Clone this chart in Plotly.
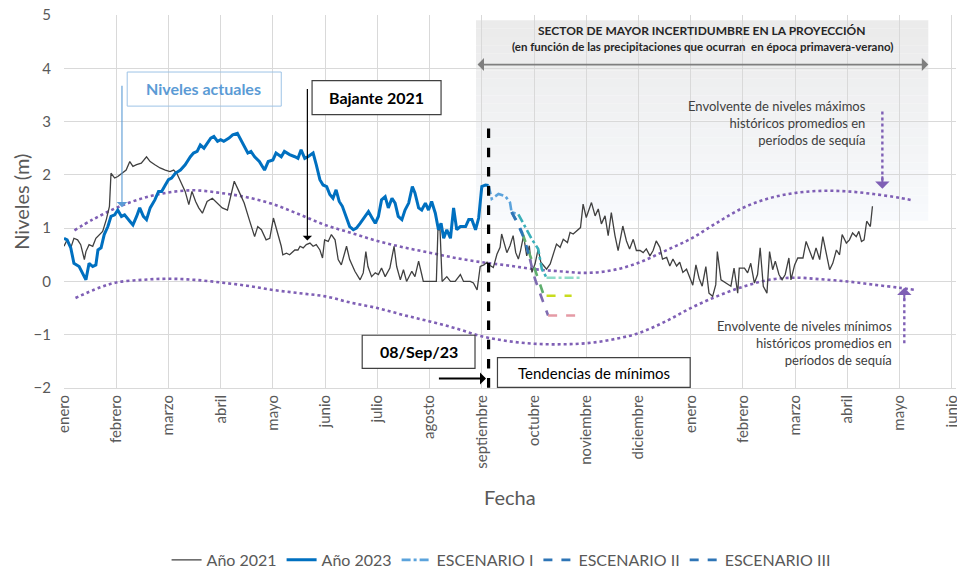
import plotly.graph_objects as go

# ---------------- data (x in months from January 2021/2023) ----------------
month_labels = ["enero", "febrero", "marzo", "abril", "mayo", "junio", "julio", "agosto",
                "septiembre", "octubre", "noviembre", "diciembre", "enero", "febrero",
                "marzo", "abril", "mayo", "junio"]

x2021 = [0.00, 0.06, 0.13, 0.19, 0.26, 0.32, 0.39, 0.42, 0.48, 0.55, 0.61, 0.68, 0.74, 0.81, 0.84, 0.87,
         0.90, 0.97, 1.03, 1.10, 1.19, 1.26, 1.32, 1.39, 1.48, 1.58, 1.65, 1.74, 1.84, 1.94, 2.03, 2.10,
         2.16, 2.23, 2.32, 2.39, 2.45, 2.52, 2.58, 2.65, 2.74, 2.84, 2.94, 3.03, 3.13, 3.19, 3.26, 3.35,
         3.45, 3.55, 3.65, 3.71, 3.78, 3.87, 3.94, 4.01, 4.10, 4.16, 4.19, 4.26, 4.32, 4.42, 4.48, 4.52,
         4.58, 4.64, 4.71, 4.77, 4.83, 4.90, 4.95, 4.99, 5.06, 5.12, 5.19, 5.25, 5.31, 5.41, 5.47, 5.57,
         5.67, 5.73, 5.78, 5.82, 5.89, 5.96, 6.02, 6.08, 6.15, 6.24, 6.32, 6.37, 6.44, 6.50, 6.56, 6.66,
         6.72, 6.79, 6.85, 6.88, 7.00, 7.13, 7.16, 7.20, 7.24, 7.33, 7.40, 7.49, 7.59, 7.65, 7.78, 7.84,
         7.91, 7.97, 8.04, 8.10, 8.16, 8.22, 8.29, 8.35, 8.38, 8.42, 8.48, 8.54, 8.60, 8.65, 8.70, 8.74,
         8.80, 8.86, 8.91, 8.96, 9.02, 9.08, 9.13, 9.19, 9.24, 9.31, 9.37, 9.43, 9.50, 9.56, 9.64, 9.69,
         9.75, 9.85, 9.89, 9.94, 10.00, 10.10, 10.17, 10.23, 10.29, 10.36, 10.42, 10.48, 10.55, 10.61,
         10.70, 10.77, 10.83, 10.90, 10.96, 11.03, 11.09, 11.15, 11.22, 11.28, 11.34, 11.41, 11.46,
         11.54, 11.60, 11.66, 11.73, 11.79, 11.85, 11.92, 11.98, 12.04, 12.10, 12.16, 12.22, 12.29,
         12.35, 12.42, 12.48, 12.51, 12.58, 12.67, 12.77, 12.83, 12.90, 12.93, 13.03, 13.09, 13.15,
         13.22, 13.28, 13.33, 13.39, 13.46, 13.51, 13.57, 13.62, 13.69, 13.75, 13.81, 13.88, 13.92,
         13.99, 14.05, 14.15, 14.21, 14.28, 14.34, 14.40, 14.47, 14.53, 14.60, 14.66, 14.72, 14.79,
         14.85, 14.90, 14.98, 15.04, 15.10, 15.17, 15.22, 15.27, 15.32, 15.37, 15.44, 15.48]
y2021 = [0.66, 0.78, 0.63, 0.81, 0.78, 0.69, 0.41, 0.56, 0.69, 0.66, 0.81, 0.87, 0.94, 1.16, 1.28, 1.41,
         2.03, 1.94, 1.97, 2.03, 2.09, 2.25, 2.16, 2.19, 2.22, 2.34, 2.25, 2.19, 2.13, 2.09, 2.06, 2.09,
         2.03, 1.88, 1.69, 1.44, 1.69, 1.50, 1.38, 1.28, 1.50, 1.56, 1.47, 1.38, 1.34, 1.59, 1.88, 1.69,
         1.47, 1.15, 0.84, 1.03, 0.97, 0.78, 0.81, 1.19, 0.88, 0.66, 0.50, 0.53, 0.50, 0.59, 0.59, 0.66,
         0.63, 0.69, 0.72, 0.66, 0.69, 0.59, 0.44, 0.78, 0.75, 0.88, 0.78, 0.41, 0.31, 0.66, 0.41, 0.19,
         0.03, 0.16, 0.56, 0.28, 0.09, 0.16, 0.13, 0.25, 0.09, 0.25, 0.66, 0.28, 0.03, 0.22, 0.00, 0.19,
         0.09, 0.38, 0.13, 0.00, 0.00, 0.00, 0.97, 0.97, 0.00, 0.09, 0.00, 0.00, 0.13, 0.00, 0.00, -0.03,
         -0.16, 0.28, 0.31, 0.36, 0.30, 0.26, 0.51, 0.64, 0.89, 0.76, 0.54, 0.67, 0.86, 0.54, 0.42, 0.57,
         0.86, 0.48, 0.67, 0.17, 0.33, 0.61, 0.36, 0.29, 0.23, 0.33, 0.54, 0.70, 0.64, 0.79, 0.73, 0.92,
         0.89, 0.98, 1.01, 1.45, 1.20, 1.48, 1.23, 1.36, 1.08, 1.23, 0.86, 1.29, 0.86, 0.58,
         1.04, 0.76, 0.61, 0.79, 0.58, 0.58, 0.54, 0.61, 0.48, 0.58, 0.76, 0.64, 0.42,
         0.45, 0.29, 0.42, 0.29, 0.36, 0.17, 0.23, 0.08, -0.07, 0.31, 0.06, -0.09, 0.28,
         -0.22, -0.28, -0.06, 0.56, 0.03, -0.03, -0.09, 0.25, -0.22, 0.25, 0.25, 0.16, 0.34,
         -0.03, 0.13, 0.63, -0.09, -0.22, 0.56, 0.22, 0.38, 0.13, 0.03, 0.13, 0.44, 0.03,
         0.31, 0.44, 0.44, 0.75, 0.56, 0.41, 0.63, 0.41, 0.84, 0.50, 0.22, 0.34, 0.59,
         0.50, 0.88, 0.72, 0.78, 0.91, 0.84, 0.94, 0.75, 0.78, 1.13, 1.03, 1.41]

x2023 = [0.00, 0.06, 0.13, 0.19, 0.29, 0.39, 0.42, 0.48, 0.55, 0.61, 0.65, 0.71, 0.77, 0.84, 0.90, 0.97,
         1.03, 1.10, 1.16, 1.26, 1.32, 1.39, 1.45, 1.52, 1.58, 1.65, 1.74, 1.81, 1.87, 1.94, 2.00, 2.06,
         2.13, 2.23, 2.32, 2.42, 2.48, 2.55, 2.61, 2.68, 2.74, 2.81, 2.87, 2.94, 3.00, 3.06, 3.16, 3.23,
         3.32, 3.39, 3.45, 3.52, 3.58, 3.65, 3.74, 3.84, 3.91, 4.00, 4.06, 4.16, 4.22, 4.32, 4.42, 4.48,
         4.54, 4.61, 4.67, 4.77, 4.83, 4.90, 4.96, 5.03, 5.09, 5.15, 5.21, 5.27, 5.33, 5.41, 5.47, 5.54,
         5.60, 5.67, 5.76, 5.83, 5.90, 5.96, 6.02, 6.08, 6.15, 6.21, 6.28, 6.34, 6.40, 6.47, 6.53, 6.60,
         6.67, 6.72, 6.79, 6.85, 6.92, 6.98, 7.04, 7.11, 7.17, 7.22, 7.27, 7.33, 7.40, 7.46, 7.52, 7.59,
         7.69, 7.75, 7.81, 7.88, 7.94, 8.00, 8.07, 8.13]
y2023 = [0.81, 0.78, 0.63, 0.34, 0.28, 0.09, 0.03, 0.34, 0.28, 0.31, 0.59, 0.63, 0.88, 1.03, 1.22, 1.25,
         1.34, 1.22, 1.25, 1.13, 1.06, 1.22, 1.38, 1.22, 1.16, 1.38, 1.53, 1.69, 1.69, 1.81, 1.91, 1.94,
         2.03, 2.09, 2.19, 2.34, 2.41, 2.44, 2.56, 2.50, 2.59, 2.69, 2.72, 2.63, 2.66, 2.63, 2.69, 2.75,
         2.78, 2.66, 2.53, 2.41, 2.44, 2.34, 2.25, 2.09, 2.25, 2.28, 2.41, 2.34, 2.44, 2.38, 2.34, 2.31,
         2.47, 2.31, 2.34, 2.41, 2.19, 1.91, 1.81, 1.78, 1.63, 1.56, 1.72, 1.50, 1.41, 1.19, 1.03, 0.97,
         1.00, 1.09, 1.22, 1.31, 1.19, 1.09, 1.22, 1.53, 1.59, 1.38, 1.56, 1.47, 1.22, 1.16, 1.34, 1.47,
         1.78, 1.66, 1.38, 1.34, 1.47, 1.34, 1.50, 1.28, 0.97, 1.09, 0.81, 0.97, 0.81, 1.38, 0.97, 1.03,
         1.03, 1.16, 1.16, 0.97, 1.19, 1.78, 1.81, 1.80]

# scenarios (each drawn in three colour segments, as in the gradient lines of the original)
esc1_x = [[8.13, 8.19, 8.32, 8.45, 8.54, 8.57, 8.70], [8.70, 8.86, 8.96, 9.08, 9.11, 9.15, 9.24], [9.24, 9.88]]
esc1_y = [[1.80, 1.55, 1.64, 1.60, 1.48, 1.30, 1.26], [1.26, 0.98, 0.79, 0.61, 0.42, 0.23, 0.07], [0.07, 0.07]]
esc2_x = [[8.57, 8.68, 8.78], [8.78, 8.90, 9.00, 9.10, 9.18, 9.24], [9.24, 9.72]]
esc2_y = [[1.30, 1.12, 0.90], [0.90, 0.55, 0.25, -0.05, -0.24, -0.27], [-0.27, -0.27]]
esc3_x = [[8.57, 8.70, 8.83, 8.92], [8.92, 9.02, 9.11, 9.21, 9.27], [9.27, 9.88]]
esc3_y = [[1.30, 1.05, 0.76, 0.42], [0.42, 0.04, -0.21, -0.46, -0.64], [-0.64, -0.64]]

# envelopes of historical drought levels
envmax_x = [0.20, 0.55, 1.0, 1.5, 2.0, 2.5, 3.0, 3.5, 4.0, 4.5, 5.0, 5.5, 6.0, 6.5, 7.0, 7.5, 8.0, 8.5,
            9.0, 9.5, 10.0, 10.5, 11.0, 11.5, 12.0, 12.5, 13.0, 13.5, 14.0, 14.5, 15.0, 15.5, 16.0, 16.25]
envmax_y = [0.96, 1.16, 1.38, 1.56, 1.67, 1.71, 1.66, 1.58, 1.45, 1.26, 1.06, 0.91, 0.76, 0.64, 0.54, 0.44,
            0.36, 0.30, 0.23, 0.19, 0.16, 0.21, 0.35, 0.57, 0.80, 1.10, 1.38, 1.56, 1.66, 1.70, 1.69, 1.64,
            1.57, 1.52]
envmin_x = [0.22, 0.67, 1.0, 1.5, 2.0, 2.5, 3.0, 3.5, 4.0, 4.5, 5.0, 5.5, 6.0, 6.5, 7.0, 7.5, 8.0, 8.5,
            9.0, 9.5, 10.0, 10.5, 11.0, 11.5, 12.0, 12.5, 13.0, 13.5, 14.0, 14.5, 15.0, 15.5, 16.0, 16.3]
envmin_y = [-0.31, -0.12, -0.02, 0.03, 0.05, 0.03, -0.02, -0.08, -0.16, -0.22, -0.28, -0.40, -0.50, -0.63,
            -0.75, -0.88, -1.03, -1.12, -1.17, -1.18, -1.16, -1.09, -0.97, -0.76, -0.50, -0.28, -0.10,
            0.03, 0.07, 0.04, 0.00, -0.06, -0.12, -0.16]

date_marker = 8.13  # 08/Sep/23

# ---------------- figure ----------------
FONT = "Lato, 'Liberation Sans', sans-serif"
GRAY_TXT = "#595959"
PURPLE = "#7F5FB5"

fig = go.Figure()

fig.add_trace(go.Scatter(x=envmax_x, y=envmax_y, mode="lines", line=dict(color=PURPLE, width=2.6, dash="dot", shape="spline"),
                         showlegend=False, hoverinfo="skip"))
fig.add_trace(go.Scatter(x=envmin_x, y=envmin_y, mode="lines", line=dict(color=PURPLE, width=2.6, dash="dot", shape="spline"),
                         showlegend=False, hoverinfo="skip"))

fig.add_trace(go.Scatter(x=x2021, y=y2021, mode="lines", name="Año 2021",
                         line=dict(color="#404040", width=1.3)))
fig.add_trace(go.Scatter(x=x2023, y=y2023, mode="lines", name="Año 2023",
                         line=dict(color="#0070C0", width=3)))

esc_specs = [
    ("ESCENARIO I", esc1_x, esc1_y, ["#5BA3DC", "#3AAFB9", "#8FDCC8"], "dashdot"),
    ("ESCENARIO II", esc2_x, esc2_y, ["#2E75B6", "#5FAE6E", "#C8DC1E"], "dash"),
    ("ESCENARIO III", esc3_x, esc3_y, ["#2E75B6", "#7E6BB0", "#E59AA5"], "dash"),
]
for name, xs, ys, cols, dash in esc_specs:
    for i, (sx, sy, c) in enumerate(zip(xs, ys, cols)):
        fig.add_trace(go.Scatter(x=sx, y=sy, mode="lines", name=name, legendgroup=name,
                                 showlegend=(i == 0), line=dict(color=c, width=2.6, dash=dash)))

shapes = []
# gradient shaded sector of uncertainty
n = 24
y_lo, y_hi = 1.14, 4.9
for i in range(n):
    t = i / (n - 1)
    r = int(248 + (235 - 248) * t)
    g = int(250 + (235 - 250) * t)
    b = int(253 + (235 - 253) * t)
    ya = y_lo + (y_hi - y_lo) * i / n
    yb = y_lo + (y_hi - y_lo) * (i + 1) / n
    shapes.append(dict(type="rect", xref="x", yref="y", x0=7.89, x1=16.55, y0=ya, y1=yb,
                       fillcolor=f"rgb({r},{g},{b})", line=dict(width=0), layer="below"))

# vertical dashed line 08/Sep/23
shapes.append(dict(type="line", xref="x", yref="y", x0=date_marker, x1=date_marker, y0=2.87, y1=-2.0,
                   line=dict(color="black", width=3.2, dash="dash")))
# annotation boxes
shapes.append(dict(type="rect", xref="x", yref="y", x0=1.21, x1=4.16, y0=3.29, y1=3.93,
                   line=dict(color="#9DC3E6", width=1), fillcolor="rgba(255,255,255,0)"))
shapes.append(dict(type="rect", xref="x", yref="y", x0=4.75, x1=7.22, y0=3.13, y1=3.77,
                   line=dict(color="#404040", width=1.2), fillcolor="white"))
shapes.append(dict(type="rect", xref="x", yref="y", x0=5.71, x1=7.87, y0=-1.63, y1=-1.01,
                   line=dict(color="#404040", width=1.2), fillcolor="white"))
shapes.append(dict(type="rect", xref="x", yref="y", x0=8.30, x1=11.99, y0=-1.99, y1=-1.43,
                   line=dict(color="#404040", width=1.2), fillcolor="white"))
# dotted arrows for the envelopes
shapes.append(dict(type="line", xref="x", yref="y", x0=15.67, x1=15.67, y0=3.19, y1=1.85,
                   line=dict(color=PURPLE, width=2.4, dash="dot")))
shapes.append(dict(type="line", xref="x", yref="y", x0=16.09, x1=16.09, y0=-1.16, y1=-0.22,
                   line=dict(color=PURPLE, width=2.4, dash="dot")))

annotations = [
    dict(x=12.22, y=4.71, text="<b>SECTOR DE MAYOR INCERTIDUMBRE EN LA PROYECCIÓN</b>", showarrow=False,
         font=dict(family=FONT, size=12, color="#262626")),
    dict(x=12.22, y=4.41, text="<b>(en función de las precipitaciones que ocurran  en época primavera-verano)</b>",
         showarrow=False, font=dict(family=FONT, size=11.5, color="#262626")),
    # double-headed arrow
    dict(x=16.55, y=4.07, ax=7.89, ay=4.07, axref="x", ayref="y", text="", showarrow=True,
         arrowhead=1, startarrowhead=1, arrowside="end+start", arrowsize=1.2, arrowwidth=1.8,
         arrowcolor="#7F7F7F"),
    # Niveles actuales
    dict(x=2.68, y=3.62, text="<b>Niveles actuales</b>", showarrow=False,
         font=dict(family=FONT, size=16, color="#5B9BD5")),
    dict(x=1.11, y=1.39, ax=1.11, ay=3.70, axref="x", ayref="y", text="", showarrow=True,
         arrowhead=1, arrowsize=1.6, arrowwidth=1.1, arrowcolor="#5B9BD5"),
    # Bajante 2021
    dict(x=5.98, y=3.45, text="<b>Bajante 2021</b>", showarrow=False,
         font=dict(family=FONT, size=16, color="black")),
    dict(x=4.66, y=0.77, ax=4.66, ay=3.64, axref="x", ayref="y", text="", showarrow=True,
         arrowhead=1, arrowsize=1.3, arrowwidth=1.2, arrowcolor="black"),
    # 08/Sep/23
    dict(x=6.79, y=-1.32, text="<b>08/Sep/23</b>", showarrow=False,
         font=dict(family=FONT, size=16, color="black")),
    dict(x=8.08, y=-1.82, ax=7.15, ay=-1.82, axref="x", ayref="y", text="", showarrow=True,
         arrowhead=1, arrowsize=1.0, arrowwidth=2, arrowcolor="black"),
    # Tendencias de mínimos
    dict(x=10.14, y=-1.71, text="Tendencias de mínimos", showarrow=False,
         font=dict(family=FONT, size=15, color="black")),
    # envelope texts
    dict(x=15.40, y=2.97, xanchor="right", align="right",
         text="Envolvente de niveles máximos<br>históricos promedios en<br>períodos de sequía",
         showarrow=False, font=dict(family=FONT, size=13, color="#404040")),
    dict(x=15.90, y=-1.16, xanchor="right", align="right",
         text="Envolvente de niveles mínimos<br>históricos promedios en<br>períodos de sequía",
         showarrow=False, font=dict(family=FONT, size=13, color="#404040")),
    dict(x=15.67, y=1.74, ax=0, ay=-14, text="", showarrow=True, arrowhead=1, arrowsize=1.2,
         arrowwidth=2, arrowcolor=PURPLE),
    dict(x=16.09, y=-0.12, ax=0, ay=14, text="", showarrow=True, arrowhead=1, arrowsize=1.2,
         arrowwidth=2, arrowcolor=PURPLE),
    # axis titles
    dict(xref="paper", yref="paper", x=-0.049, y=0.50, xanchor="center", yanchor="middle",
         text="Niveles (m)", textangle=-90,
         showarrow=False, font=dict(family=FONT, size=20, color=GRAY_TXT)),
    dict(xref="paper", yref="paper", x=0.5, y=-0.292, xanchor="center", yanchor="middle", text="Fecha",
         showarrow=False, font=dict(family=FONT, size=20, color=GRAY_TXT)),
]

fig.update_layout(
    width=957, height=568,
    margin=dict(l=64, r=1, t=15, b=180, autoexpand=False),
    paper_bgcolor="white", plot_bgcolor="white",
    font=dict(family=FONT, color=GRAY_TXT),
    shapes=shapes, annotations=annotations,
    legend=dict(orientation="h", x=0.49, xanchor="center", y=-0.461, yanchor="middle",
                font=dict(family=FONT, size=16, color=GRAY_TXT), itemwidth=30,
                bgcolor="rgba(0,0,0,0)"),
    xaxis=dict(range=[0, 17.08], tickvals=list(range(len(month_labels))), ticktext=month_labels,
               tickangle=-90, showgrid=True, gridcolor="#D9D9D9", gridwidth=1, zeroline=False,
               showline=True, linecolor="#D9D9D9", ticks="", automargin=False,
               ticklabeloverflow="allow",
               tickfont=dict(family=FONT, size=15, color=GRAY_TXT)),
    yaxis=dict(range=[-2, 5], dtick=1, showgrid=True, gridcolor="#D9D9D9", gridwidth=1, zeroline=False,
               showline=False, ticks="", automargin=False, ticklabelstandoff=12,
               tickfont=dict(family=FONT, size=15, color=GRAY_TXT)),
)

fig.write_html("out.html", config={"displayModeBar": False},
               post_script="document.body.style.margin='0';document.body.style.overflow='hidden';")
